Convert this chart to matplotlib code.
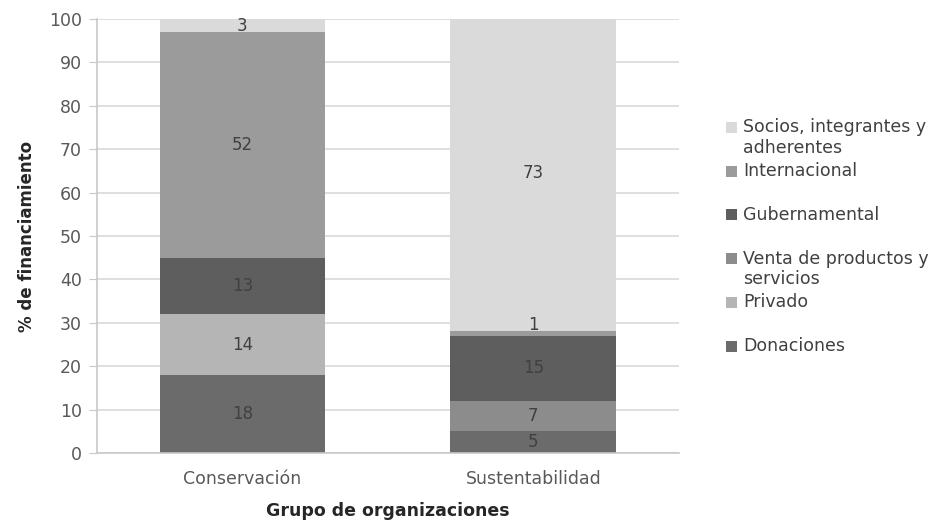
import matplotlib
matplotlib.use("Agg")
import matplotlib.pyplot as plt
from matplotlib.patches import Rectangle
import numpy as np

plt.rcParams['font.family'] = ['DejaVu Sans']

categories = ["Conservación", "Sustentabilidad"]
series = ["Donaciones", "Privado", "Venta de productos y\nservicios", "Gubernamental",
          "Internacional", "Socios, integrantes y\nadherentes"]
donaciones = [18, 5]
privado = [14, 0]
venta = [0, 7]
gubernamental = [13, 15]
internacional = [52, 1]
socios = [3, 73]
values = [donaciones, privado, venta, gubernamental, internacional, socios]
colors = ["#6b6b6b", "#b5b5b5", "#8c8c8c", "#5e5e5e", "#9b9b9b", "#dadada"]

fig = plt.figure(figsize=(9.48, 5.21), dpi=100)
ax = fig.add_axes([0.1023, 0.1305, 0.6137, 0.833])

x = np.arange(len(categories))
bottom = np.zeros(len(categories))
for name, vals, col in zip(series, values, colors):
    vals = np.array(vals, dtype=float)
    ax.bar(x, vals, 0.57, bottom=bottom, color=col, zorder=2)
    for xi, v, b in zip(x, vals, bottom):
        if v > 0:
            yl = b + v / 2
            if v < 2:
                yl = b + v + 1.5
            ax.text(xi, min(yl, 98.6), f"{int(v)}", ha="center", va="center",
                    fontsize=12, color="#404040", zorder=3)
    bottom += vals

ax.set_xlim(-0.5, 1.5)
ax.set_ylim(0, 100)
ax.set_yticks(np.arange(0, 101, 10))
ax.set_xticks(x)
ax.set_xticklabels(categories)
ax.yaxis.grid(True, color="#d9d9d9", linewidth=1.2, zorder=0)
ax.set_axisbelow(True)
for s in ["top", "right"]:
    ax.spines[s].set_visible(False)
ax.spines["left"].set_color("#c8c8c8")
ax.spines["bottom"].set_color("#c8c8c8")
ax.spines["left"].set_linewidth(1.2)
ax.spines["bottom"].set_linewidth(1.2)
ax.tick_params(axis="y", length=6, color="#c8c8c8", labelsize=12.5, labelcolor="#595959", pad=5)
ax.tick_params(axis="x", length=0, labelsize=12.5, labelcolor="#595959", pad=12)
ax.set_ylabel("% de financiamiento", fontsize=12, fontweight="bold", color="#262626", labelpad=9)
ax.set_xlabel("Grupo de organizaciones", fontsize=12.5, fontweight="bold", color="#262626", labelpad=10)

# legend (entries in reverse order, handle aligned with first line)
W, H = 948, 521
ytop = 128
step = 43.7
for i, (name, col) in enumerate(zip(series[::-1], colors[::-1])):
    yc = ytop + i * step
    fig.patches.append(Rectangle((726 / W, 1 - (yc + 5) / H), 11 / W, 11 / H,
                                 transform=fig.transFigure, facecolor=col, edgecolor="none"))
    fig.text(743 / W, 1 - (yc - 9.5) / H, name, ha="left", va="top", fontsize=12.5, color="#404040",
             linespacing=1.15, transform=fig.transFigure)

fig.savefig("out.png", dpi=100)
